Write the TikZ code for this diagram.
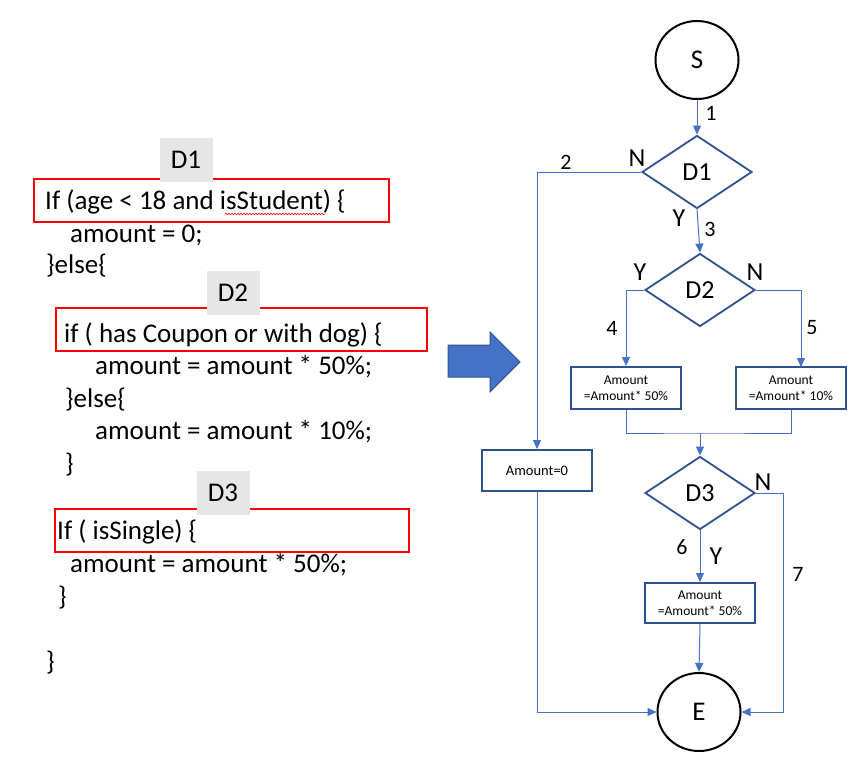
\documentclass[tikz,border=0pt]{standalone}
\usepackage{fontspec}
\setmainfont{Carlito}
\usetikzlibrary{arrows.meta,shapes.geometric,decorations.pathmorphing}
\definecolor{flowBlue}{HTML}{4472C4}
\definecolor{edgeBlue}{HTML}{2F528F}
\definecolor{tagGray}{HTML}{E7E6E6}
\definecolor{codeRed}{HTML}{FF0000}
\begin{document}
\begin{tikzpicture}[x=1pt,y=-1pt,
  codetext/.style={anchor=base west,inner sep=0pt,font=\fontsize{27}{30}\selectfont},
  tagbox/.style={fill=tagGray,minimum width=53pt,minimum height=44pt,inner sep=0pt,font=\fontsize{27}{30}\selectfont},
  redbox/.style={draw=codeRed,line width=2pt,inner sep=0pt},
  terminal/.style={draw=black,line width=2pt,ellipse,minimum width=83pt,minimum height=78pt,inner sep=0pt,font=\fontsize{27}{30}\selectfont},
  decision/.style={draw=edgeBlue,line width=1.8pt,diamond,minimum width=110pt,minimum height=73pt,inner sep=0pt,font=\fontsize{26}{30}\selectfont},
  process/.style={draw=edgeBlue,line width=2pt,minimum width=110pt,inner sep=0pt,align=center,font=\fontsize{13.5}{16}\selectfont},
  conn/.style={draw=flowBlue,line width=1pt},
  flow/.style={conn,-{Triangle[length=9pt,width=8pt]}},
  branch/.style={inner sep=0pt,font=\fontsize{26}{28}\selectfont},
  edgenum/.style={inner sep=0pt,font=\fontsize{22}{24}\selectfont}
]
\useasboundingbox (0,0) rectangle (858,760);
\fill[white] (0,0) rectangle (858,760);

% ---- pseudo-code listing ----
\node[redbox,minimum width=355pt,minimum height=43pt] (r1) at (211.5,200.5) {};
\node[redbox,minimum width=371pt,minimum height=43pt] (r2) at (241.5,329.5) {};
\node[redbox,minimum width=354pt,minimum height=43pt] (r3) at (232,530.5) {};
\node[tagbox] (t1) at (186,160) {D1};
\node[tagbox] (t2) at (233,293) {D2};
\node[tagbox] (t3) at (223,493) {D3};

\node[codetext] (c1) at (45,209) {If (age < 18 and isStudent) \{};
\draw[codeRed,line width=0.6pt,decorate,decoration={snake,amplitude=0.8pt,segment length=3pt}] (225,214) -- (325,214);
\node[codetext] (c2) at (70,242) {amount = 0;};
\node[codetext] (c3) at (46,273) {\}else\{};
\node[codetext] (c4) at (64,342) {if ( has Coupon or with dog) \{};
\node[codetext] (c5) at (95,374) {amount = amount * 50\%;};
\node[codetext] (c6) at (65,407) {\}else\{};
\node[codetext] (c7) at (95,439) {amount = amount * 10\%;};
\node[codetext] (c8) at (65,472) {\}};
\node[codetext] (c9) at (57,539) {If ( isSingle) \{};
\node[codetext] (c10) at (70,572) {amount = amount * 50\%;};
\node[codetext] (c11) at (58,605) {\}};
\node[codetext] (c12) at (46,670) {\}};

% ---- block arrow ----
\draw[fill=flowBlue,draw=edgeBlue,line width=1pt]
  (448,345) -- (490,345) -- (490,332) -- (520,362) -- (490,392) -- (490,377) -- (448,377) -- cycle;

% ---- flowchart ----
\node[terminal] (S) at (697,60) {S};
\node[decision] (D1) at (697,172) {D1};
\node[decision] (D2) at (700,290) {D2};
\node[process,minimum height=42pt] (BL) at (626,388) {Amount\\=Amount* 50\%};
\node[process,minimum height=42pt] (BR) at (791,388) {Amount\\=Amount* 10\%};
\node[process,minimum height=41pt,font=\fontsize{14.5}{16}\selectfont] (A0) at (537,470.5) {Amount=0};
\node[decision] (D3) at (700,493) {D3};
\node[process,minimum height=40pt] (B3) at (700,603) {Amount\\=Amount* 50\%};
\node[terminal] (E) at (699,712) {E};

\coordinate (brin) at (801,367);
\coordinate (merge) at (700,433);
\coordinate (n3) at (783,493);

\draw[flow] (S) -- (D1);
\draw[flow] (D1.west) -| (A0.north);
\draw[flow] (D1.south) -- (D2.north);
\draw[flow] (D2.west) -| (BL.north);
\draw[flow] (D2.east) -| (brin);
\draw[conn] (BL.south) |- (merge) -| (BR.south);
\draw[flow] (merge) -- (D3.north);
\draw[flow] (D3.south) -- (B3.north);
\draw[flow] (B3.south) -- (E.north);
\draw[flow] (A0.south) |- (E.west);
\draw[flow] (D3.east) -- (n3) |- (E.east);

% ---- branch and edge labels ----
\node[edgenum] (l1) at (711,113) {1};
\node[edgenum] (l2) at (566,162) {2};
\node[branch] (n1) at (637,158) {N};
\node[branch] (y1) at (679,218) {Y};
\node[edgenum] (l3) at (710,229) {3};
\node[branch] (y2) at (640,272) {Y};
\node[branch] (n2) at (755,272) {N};
\node[edgenum] (l4) at (612,328) {4};
\node[edgenum] (l5) at (812,328) {5};
\node[branch] (n3l) at (763,482) {N};
\node[edgenum] (l6) at (682,547) {6};
\node[branch] (y3) at (716,556) {Y};
\node[edgenum] (l7) at (798,574) {7};
\end{tikzpicture}
\end{document}
